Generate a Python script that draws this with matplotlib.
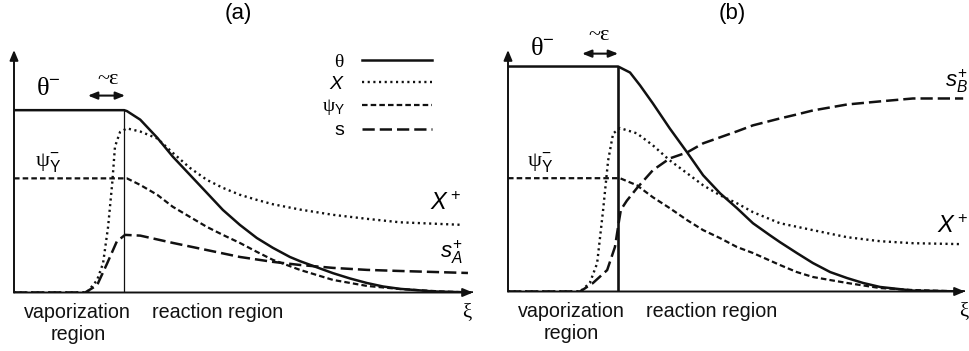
import matplotlib
matplotlib.use("Agg")
import matplotlib.pyplot as plt

plt.rcParams['mathtext.fontset'] = 'custom'
plt.rcParams['mathtext.rm'] = 'Liberation Serif'
plt.rcParams['mathtext.it'] = 'Liberation Sans:italic'
plt.rcParams['mathtext.sf'] = 'Liberation Sans'
plt.rcParams['font.family'] = ['Liberation Sans', 'DejaVu Sans']

# ---- panel (a) profiles (xi along the axis, 0..10) ----
xi_theta_a = [0, 2.40, 2.46, 2.75, 3.12, 3.46, 3.83, 4.20, 4.55, 4.92, 5.29,
              5.64, 6.01, 6.23, 6.60, 6.95, 7.32, 7.69, 8.04, 8.41, 9.13, 10.0]
theta_a = [1.0, 1.0, 0.995, 0.948, 0.849, 0.745, 0.646, 0.547, 0.453, 0.371, 0.299,
           0.245, 0.195, 0.172, 0.138, 0.106, 0.077, 0.052, 0.033, 0.020, 0.006, 0.0]

xi_x_a = [0, 1.59, 1.81, 1.94, 2.05, 2.14, 2.20, 2.31, 2.46, 2.75, 3.12,
          3.46, 3.83, 4.20, 4.55, 4.92, 5.29, 5.64, 6.23, 6.95, 7.69, 8.41, 9.76]
x_a = [0, 0, 0.068, 0.16, 0.36, 0.60, 0.80, 0.88, 0.90, 0.883, 0.845,
       0.766, 0.684, 0.618, 0.574, 0.536, 0.508, 0.484, 0.455, 0.426, 0.404, 0.385, 0.371]

xi_psi_a = [0, 2.46, 2.75, 3.12, 3.46, 3.83, 4.20, 4.55, 4.92, 5.29, 5.64,
            6.23, 6.95, 7.69, 8.41, 9.28, 10.0]
psi_a = [0.626, 0.626, 0.59, 0.536, 0.470, 0.415, 0.360, 0.316, 0.272, 0.223, 0.179,
         0.124, 0.069, 0.036, 0.019, 0.006, 0.0]

xi_s_a = [0, 1.55, 1.81, 2.03, 2.24, 2.42, 2.75, 3.46, 4.20, 4.92, 5.64,
          6.23, 6.95, 7.69, 8.41, 9.89]
s_a = [0, 0, 0.04, 0.16, 0.28, 0.316, 0.312, 0.272, 0.233, 0.195, 0.168,
       0.151, 0.135, 0.124, 0.118, 0.107]

# ---- panel (b) profiles ----
xi_theta_b = [0, 2.41, 2.45, 2.67, 2.89, 3.17, 3.54, 3.92, 4.27, 4.64, 5.01,
              5.36, 5.73, 5.95, 6.32, 6.67, 7.05, 7.42, 7.77, 8.14, 8.86, 10.0]
theta_b = [1.239, 1.239, 1.234, 1.206, 1.135, 1.036, 0.898, 0.766, 0.640, 0.541, 0.459,
           0.376, 0.310, 0.272, 0.212, 0.157, 0.107, 0.074, 0.047, 0.025, 0.005, 0.0]

xi_x_b = [0, 1.58, 1.79, 1.95, 2.08, 2.19, 2.30, 2.45, 2.82, 3.17, 3.54,
          3.92, 4.27, 4.64, 5.01, 5.36, 5.95, 6.67, 7.42, 8.14, 8.86, 9.89]
x_b = [0, 0, 0.047, 0.155, 0.446, 0.72, 0.87, 0.90, 0.871, 0.805, 0.722,
       0.651, 0.585, 0.530, 0.486, 0.437, 0.376, 0.338, 0.299, 0.277, 0.266, 0.261]

xi_psi_b = [0, 2.41, 2.45, 2.82, 3.17, 3.54, 3.92, 4.27, 4.64, 5.01, 5.36,
            5.95, 6.32, 6.67, 7.05, 7.42, 8.14, 8.86, 10.0]
psi_b = [0.624, 0.624, 0.624, 0.585, 0.519, 0.459, 0.393, 0.338, 0.294, 0.245, 0.212,
         0.146, 0.107, 0.080, 0.063, 0.047, 0.019, 0.008, 0.0]

xi_s_b = [0, 1.58, 1.86, 2.17, 2.34, 2.43, 2.47, 2.60, 2.82, 3.17, 3.54,
          3.92, 4.27, 4.64, 5.01, 5.36, 5.95, 6.32, 6.67, 7.42, 8.14, 8.86, 9.96]
s_b = [0, 0, 0.047, 0.118, 0.245, 0.39, 0.45, 0.50, 0.569, 0.668, 0.733,
       0.766, 0.816, 0.849, 0.882, 0.915, 0.953, 0.975, 0.997, 1.03, 1.047, 1.063, 1.063]

# front position (edge of vaporization region) and eps arrow span
xi_front = [2.40, 2.41]
eps_span_a = [1.61, 2.42]
eps_span_b = [1.62, 2.41]

# line styles
solid = dict(color='#111111', lw=1.8, ls='-')
dotted = dict(color='#111111', lw=1.7, ls=(0, (0.9, 1.5)))
short_dash = dict(color='#111111', lw=1.6, ls=(0, (2.5, 1.4)))
long_dash = dict(color='#111111', lw=1.8, ls=(0, (4.9, 2.0)))

W, H = 969, 351
fig = plt.figure(figsize=(W / 100, H / 100), dpi=100)
ax_a = fig.add_axes([14 / W, (H - 292.5) / H, 459 / W, 242.5 / H])
ax_b = fig.add_axes([508 / W, (H - 291.5) / H, 457 / W, 241.5 / H])

serif = ['Liberation Serif', 'DejaVu Serif']


def setup_axes(ax):
    ax.set_xlim(0, 10)
    ax.set_ylim(0, 1.33)
    for sp in ax.spines.values():
        sp.set_visible(False)
    ax.set_xticks([])
    ax.set_yticks([])
    ax.patch.set_alpha(0)
    arrow = dict(arrowstyle='-|>,head_length=0.6,head_width=0.25',
                 color='#111111', lw=1.4, shrinkA=0, shrinkB=0)
    ax.annotate('', xy=(0, 1.0), xytext=(0, 0), xycoords='axes fraction',
                arrowprops=arrow)
    ax.annotate('', xy=(1.0, 0), xytext=(0, 0), xycoords='axes fraction',
                arrowprops=arrow)


def eps_arrow(ax, span, y):
    ax.annotate('', xy=(span[1], y), xytext=(span[0], y),
                arrowprops=dict(arrowstyle='<|-|>,head_length=0.55,head_width=0.22',
                                color='#111111', lw=1.5, shrinkA=0, shrinkB=0))


def region_labels(ax, xi_vap, xi_reac):
    ax.text(xi_vap, -0.06, 'vaporization\nregion', ha='center', va='top',
            fontsize=14.2, linespacing=1.18, color='#111111')
    ax.text(xi_reac, -0.06, 'reaction region', ha='center', va='top',
            fontsize=14.2, color='#111111')


# ---------------- panel (a) ----------------
setup_axes(ax_a)
ax_a.plot(xi_theta_a, theta_a, label=r'$\mathrm{\theta}$', **solid)
ax_a.plot(xi_x_a, x_a, label=r'$\mathit{X}$', **dotted)
ax_a.plot(xi_psi_a, psi_a, label=r'$\mathrm{\psi}_{\mathsf{Y}}$', **short_dash)
ax_a.plot(xi_s_a, s_a, label=r'$\mathsf{s}$', **long_dash)
ax_a.plot([xi_front[0]] * 2, [0, theta_a[0]], color='#111111', lw=0.9)

ax_a.legend(loc='upper right', bbox_to_anchor=(9.11, 1.31), bbox_transform=ax_a.transData,
            markerfirst=False, frameon=False, fontsize=14, handlelength=3.6,
            handletextpad=0.9, labelspacing=0.22, borderpad=0, borderaxespad=0)

eps_arrow(ax_a, eps_span_a, 1.08)
ax_a.text(2.05, 1.17, '~ε', ha='center', va='center', fontsize=16, family=serif)
ax_a.text(0.75, 1.12, r'$\mathrm{\theta}^{\mathsf{-}}$', ha='center', va='center', fontsize=19)
ax_a.text(0.75, 0.71, r'$\mathrm{\psi}_{\mathsf{Y}}^{\mathsf{-}}$', ha='center', va='center', fontsize=16)
ax_a.text(9.4, 0.49, r'$\mathit{X}^{\,\mathsf{+}}$', ha='center', va='center', fontsize=17)
ax_a.text(9.52, 0.22, r'$\mathit{s}_{\mathit{A}}^{\mathsf{+}}$', ha='center', va='center', fontsize=16)
ax_a.text(9.87, -0.06, 'ξ', ha='center', va='top', fontsize=15, family=serif)
region_labels(ax_a, 1.39, 4.44)
ax_a.text(4.88, 1.53, '(a)', ha='center', va='center', fontsize=16)

# ---------------- panel (b) ----------------
setup_axes(ax_b)
ax_b.plot(xi_theta_b, theta_b, **solid)
ax_b.plot(xi_x_b, x_b, **dotted)
ax_b.plot(xi_psi_b, psi_b, **short_dash)
ax_b.plot(xi_s_b, s_b, **long_dash)
ax_b.plot([xi_front[1]] * 2, [0, theta_b[0]], color='#111111', lw=1.9)

eps_arrow(ax_b, eps_span_b, 1.31)
ax_b.text(1.99, 1.41, '~ε', ha='center', va='center', fontsize=16, family=serif)
ax_b.text(0.75, 1.34, r'$\mathrm{\theta}^{\mathsf{-}}$', ha='center', va='center', fontsize=19)
ax_b.text(0.70, 0.71, r'$\mathrm{\psi}_{\mathsf{Y}}^{\mathsf{-}}$', ha='center', va='center', fontsize=16)
ax_b.text(10.07, 0.36, r'$\mathit{X}^{\,\mathsf{+}}$', ha='right', va='center', fontsize=17)
ax_b.text(10.07, 1.16, r'$\mathit{s}_{\mathit{B}}^{\mathsf{+}}$', ha='right', va='center', fontsize=16)
ax_b.text(9.97, -0.06, 'ξ', ha='center', va='top', fontsize=15, family=serif)
region_labels(ax_b, 1.38, 4.46)
ax_b.text(4.9, 1.53, '(b)', ha='center', va='center', fontsize=16)

fig.savefig('out.png', dpi=100)
